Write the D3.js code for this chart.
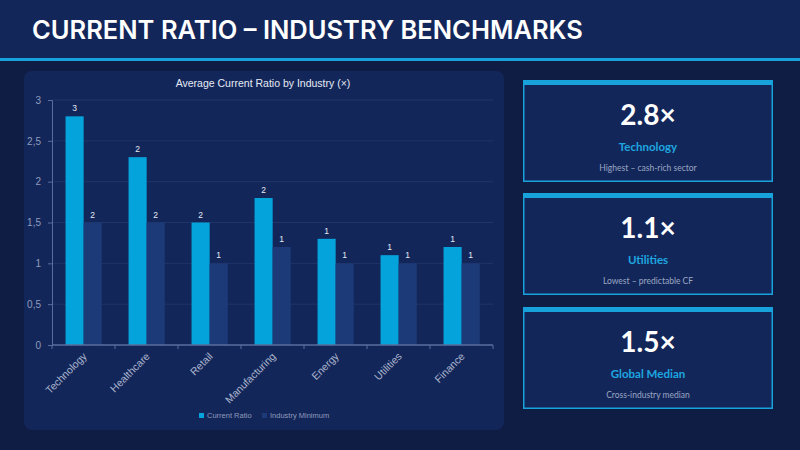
<!DOCTYPE html>
<html>
<head>
<meta charset="utf-8">
<script src="https://cdn.jsdelivr.net/npm/d3@7"></script>
<style>
  html, body { margin: 0; padding: 0; background: #0f1d45; }
  svg { display: block; }
</style>
</head>
<body>
<div class="chart"></div>
<script>
// chart data
const industries = ["Technology", "Healthcare", "Retail", "Manufacturing", "Energy", "Utilities", "Finance"]
const currentRatio = [2.8, 2.3, 1.5, 1.8, 1.3, 1.1, 1.2]
const industryMin = [1.5, 1.5, 1.0, 1.2, 1.0, 1.0, 1.0]
const seriesNames = ["Current Ratio", "Industry Minimum"]
const yTicks = [0, 0.5, 1, 1.5, 2, 2.5, 3]

// side cards
const cardValues = ["2.8×", "1.1×", "1.5×"]
const cardLabels = ["Technology", "Utilities", "Global Median"]
const cardNotes = ["Highest – cash-rich sector", "Lowest – predictable CF", "Cross-industry median"]

const colors = {
    bg: "#0f1d45",
    header: "#13265a",
    panel: "#13265a",
    accent: "#17a2dc",
    current: "#05a3dc",
    minimum: "#1d3a78",
    axis: "#5a6e9e",
    grid: "#1f3468",
    text: "#c9d1e4"
}

const width = 800
const height = 450

const svg = d3.select('.chart')
    .append('svg')
    .attr('width', width)
    .attr('height', height)

svg.append('rect')
    .attr('width', width)
    .attr('height', height)
    .attr('fill', colors.bg)

// Header
svg.append('rect')
    .attr('width', width)
    .attr('height', 58)
    .attr('fill', colors.header)

svg.append('rect')
    .attr('y', 58)
    .attr('width', width)
    .attr('height', 3)
    .attr('fill', colors.accent)

svg.append('text')
    .attr('x', 32)
    .attr('y', 39)
    .attr('fill', '#ffffff')
    .attr('font-family', 'Inter, Roboto, sans-serif')
    .attr('font-weight', 600)
    .attr('font-size', 25.5)
    .text('CURRENT RATIO – INDUSTRY BENCHMARKS')

// Chart panel
svg.append('rect')
    .attr('x', 24)
    .attr('y', 71)
    .attr('width', 480)
    .attr('height', 359)
    .attr('rx', 8)
    .attr('fill', colors.panel)

svg.append('text')
    .attr('x', 263)
    .attr('y', 87)
    .attr('text-anchor', 'middle')
    .attr('fill', '#e6ebf5')
    .attr('font-family', 'Liberation Sans, Arial, sans-serif')
    .attr('font-size', 10.5)
    .text('Average Current Ratio by Industry (×)')

const plot = { left: 52, right: 493, top: 100, bottom: 345 }

const xScale = d3.scaleBand()
    .domain(industries)
    .range([plot.left, plot.right])

const bw = xScale.bandwidth()
const xInner = d3.scaleBand()
    .domain(seriesNames)
    .range([bw * 0.215, bw * 0.79])

const yScale = d3.scaleLinear()
    .domain([0, 3])
    .range([plot.bottom, plot.top])

// gridlines
svg.append('g')
    .selectAll('line')
    .data(yTicks.filter(d => d > 0))
    .join('line')
    .attr('x1', plot.left)
    .attr('x2', plot.right)
    .attr('y1', d => yScale(d))
    .attr('y2', d => yScale(d))
    .attr('stroke', colors.grid)
    .attr('stroke-width', 1)

// bars
const rows = industries.map((name, i) => ({
    name: name,
    values: [
        { series: seriesNames[0], value: currentRatio[i] },
        { series: seriesNames[1], value: industryMin[i] }
    ]
}))
const seriesColor = d3.scaleOrdinal().domain(seriesNames).range([colors.current, colors.minimum])

const groups = svg.append('g')
    .selectAll('g')
    .data(rows)
    .join('g')
    .attr('transform', d => `translate(${xScale(d.name)},0)`)

groups.selectAll('rect')
    .data(d => d.values)
    .join('rect')
    .attr('x', d => xInner(d.series))
    .attr('y', d => yScale(d.value))
    .attr('width', xInner.bandwidth())
    .attr('height', d => yScale(0) - yScale(d.value))
    .attr('fill', d => seriesColor(d.series))

groups.selectAll('text')
    .data(d => d.values)
    .join('text')
    .attr('x', d => xInner(d.series) + xInner.bandwidth() / 2)
    .attr('y', d => yScale(d.value) - 5)
    .attr('text-anchor', 'middle')
    .attr('fill', '#e6ebf5')
    .attr('font-family', 'Liberation Sans, Arial, sans-serif')
    .attr('font-size', 8.5)
    .text(d => d3.format('.0f')(d.value))

// Axes
const yAxis = d3.axisLeft(yScale)
    .tickValues(yTicks)
    .tickSize(4)
    .tickFormat(d => d3.format('~g')(d).replace('.', ','))

const yAxisDraw = svg.append('g')
    .attr('transform', `translate(${plot.left},0)`)
    .call(yAxis)

yAxisDraw.select('.domain').attr('stroke', colors.axis)
yAxisDraw.selectAll('.tick line').attr('stroke', colors.axis)
yAxisDraw.selectAll('text')
    .attr('fill', '#8f9bbb')
    .attr('font-family', 'Liberation Sans, Arial, sans-serif')
    .attr('font-size', 10)
    .attr('dx', '-0.4em')

const xAxisDraw = svg.append('g')
    .attr('transform', `translate(0,${plot.bottom})`)

xAxisDraw.append('line')
    .attr('x1', plot.left)
    .attr('x2', plot.right)
    .attr('stroke', colors.axis)
    .attr('stroke-width', 1.5)

// tick marks between categories
xAxisDraw.selectAll('.sep')
    .data(industries.concat(['end']))
    .join('line')
    .attr('class', 'sep')
    .attr('x1', (d, i) => i < industries.length ? xScale(d) : plot.right)
    .attr('x2', (d, i) => i < industries.length ? xScale(d) : plot.right)
    .attr('y1', 0)
    .attr('y2', 4)
    .attr('stroke', colors.axis)

xAxisDraw.selectAll('.lbl')
    .data(industries)
    .join('text')
    .attr('class', 'lbl')
    .attr('transform', d => `translate(${xScale(d) + bw / 2 + 4},${12}) rotate(-45)`)
    .attr('text-anchor', 'end')
    .attr('fill', '#aab4cc')
    .attr('font-family', 'Liberation Sans, Arial, sans-serif')
    .attr('font-size', 10.5)
    .text(d => d)

// legend
const legend = svg.append('g')
    .attr('transform', 'translate(199,418)')

const legendItems = legend.selectAll('g')
    .data(seriesNames)
    .join('g')
    .attr('transform', (d, i) => `translate(${i * 63},0)`)

legendItems.append('rect')
    .attr('x', 0)
    .attr('y', -5)
    .attr('width', 5)
    .attr('height', 5)
    .attr('fill', d => seriesColor(d))

legendItems.append('text')
    .attr('x', 8)
    .attr('y', 0)
    .attr('fill', '#8f9bbb')
    .attr('font-family', 'Liberation Sans, Arial, sans-serif')
    .attr('font-size', 7.5)
    .text(d => d)

// KPI cards
const cardTops = [80, 193, 307]
const cards = svg.append('g')
    .selectAll('g')
    .data(cardValues)
    .join('g')
    .attr('transform', (d, i) => `translate(523,${cardTops[i]})`)

cards.append('rect')
    .attr('x', 0.75)
    .attr('y', 0.75)
    .attr('width', 248.5)
    .attr('height', 100.5)
    .attr('fill', colors.panel)
    .attr('stroke', colors.accent)
    .attr('stroke-width', 1.5)

cards.append('rect')
    .attr('width', 250)
    .attr('height', 5)
    .attr('fill', colors.accent)

cards.append('text')
    .attr('x', 125)
    .attr('y', 45)
    .attr('text-anchor', 'middle')
    .attr('fill', '#ffffff')
    .attr('font-family', 'Lato, Open Sans, sans-serif')
    .attr('font-weight', 700)
    .attr('font-size', 28)
    .text(d => d)

cards.append('text')
    .attr('x', 125)
    .attr('y', 71)
    .attr('text-anchor', 'middle')
    .attr('fill', '#1ea6e0')
    .attr('font-family', 'Lato, Open Sans, sans-serif')
    .attr('font-weight', 700)
    .attr('font-size', 11.5)
    .text((d, i) => cardLabels[i])

cards.append('text')
    .attr('x', 125)
    .attr('y', 91)
    .attr('text-anchor', 'middle')
    .attr('fill', '#9aa6c2')
    .attr('font-family', 'Lato, Open Sans, sans-serif')
    .attr('font-size', 8.5)
    .text((d, i) => cardNotes[i])
</script>
</body>
</html>
